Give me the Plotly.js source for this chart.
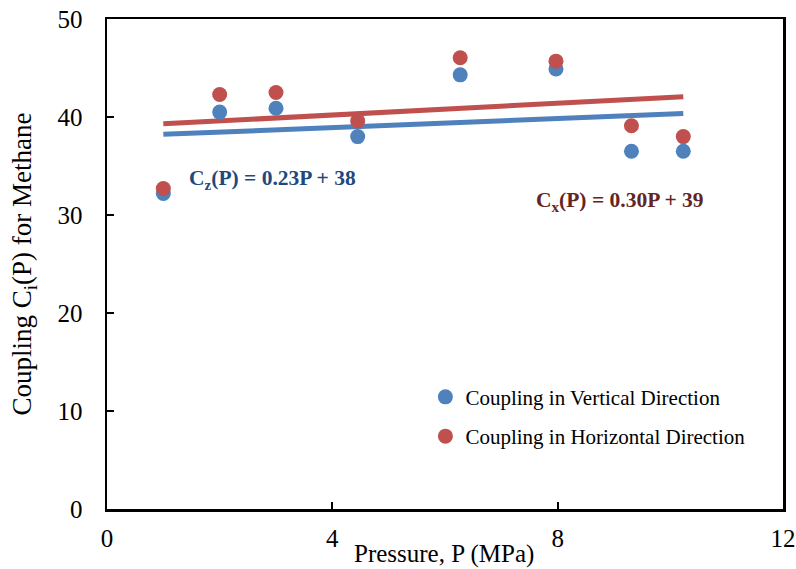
<!DOCTYPE html>
<html>
<head>
<meta charset="utf-8">
<script src="https://cdn.plot.ly/plotly-3.0.1.min.js"></script>
<style>html,body{margin:0;padding:0;background:#fff;}#chart{width:796px;height:569px;}</style>
</head>
<body>
<div id="chart"></div>
<script>
// Data
const pressure = [1.0, 2.0, 3.0, 4.45, 6.27, 7.97, 9.31, 10.23];
const couplingVertical = [32.2, 40.5, 40.9, 38.0, 44.3, 44.9, 36.5, 36.5];
const couplingHorizontal = [32.7, 42.3, 42.5, 39.6, 46.05, 45.7, 39.1, 38.0];
// Trend-line coefficients as printed on the chart
const trendVertical = {slope: 0.23, intercept: 38};
const trendHorizontal = {slope: 0.30, intercept: 39};
const xTicks = [0, 4, 8, 12];
const yTicks = [0, 10, 20, 30, 40, 50];

const blue = '#4F81BD', red = '#C0504D';
const font = 'Liberation Serif, Times New Roman, serif';

const xMin = Math.min(...pressure), xMax = Math.max(...pressure);
function trend(c) { return [xMin, xMax].map(x => c.slope * x + c.intercept); }

const traces = [
  {x: [xMin, xMax], y: trend(trendVertical), mode: 'lines', line: {color: blue, width: 5}, showlegend: false, hoverinfo: 'skip'},
  {x: [xMin, xMax], y: trend(trendHorizontal), mode: 'lines', line: {color: red, width: 5}, showlegend: false, hoverinfo: 'skip'},
  {x: pressure, y: couplingVertical, mode: 'markers', name: 'Coupling in Vertical Direction',
   marker: {color: blue, size: 15}, legendgroup: 'a'},
  {x: pressure, y: couplingHorizontal, mode: 'markers', name: 'Coupling in Horizontal Direction',
   marker: {color: red, size: 15}, legendgroup: 'b'}
];

const axisCommon = {
  showline: true, linecolor: '#000', linewidth: 2.5, mirror: true,
  ticks: 'inside', ticklen: 7, tickwidth: 2, tickcolor: '#000',
  showgrid: false, zeroline: false,
  tickfont: {family: font, size: 25, color: '#000'}
};

const layout = {
  width: 796, height: 569,
  margin: {l: 107, r: 13, t: 19, b: 60},
  paper_bgcolor: '#fff', plot_bgcolor: '#fff',
  font: {family: font, color: '#000'},
  xaxis: Object.assign({}, axisCommon, {range: [0, 12], tickvals: xTicks, ticktext: xTicks.map(String), ticklabelstandoff: 5}),
  yaxis: Object.assign({}, axisCommon, {range: [0, 50], tickvals: yTicks, ticktext: yTicks.map(String), ticklabelstandoff: 17,
    title: {text: 'Coupling C<sub>i</sub>(P) for Methane', font: {family: font, size: 27, color: '#000'}, standoff: 18}}),
  legend: {x: 0.471, y: 0.270, xanchor: 'left', yanchor: 'top', bgcolor: 'rgba(0,0,0,0)',
    font: {family: font, size: 21, color: '#000'}, tracegroupgap: 9, itemwidth: 30},
  annotations: [
    {xref: 'paper', yref: 'paper', x: (444 - 107) / 676, y: (509 - 554) / 490, xanchor: 'center', yanchor: 'middle',
     text: 'Pressure, P (MPa)', showarrow: false, font: {family: font, size: 25, color: '#000'}},
    {xref: 'x', yref: 'y', x: 1.42, y: 33.6, xanchor: 'left', yanchor: 'middle', showarrow: false,
     text: '<b>C<sub>z</sub>(P) = 0.23P + 38</b>', font: {family: font, size: 21.5, color: '#1F497D'}},
    {xref: 'x', yref: 'y', x: 7.58, y: 31.4, xanchor: 'left', yanchor: 'middle', showarrow: false,
     text: '<b>C<sub>x</sub>(P) = 0.30P + 39</b>', font: {family: font, size: 21.5, color: '#632523'}}
  ]
};

Plotly.newPlot('chart', traces, layout, {displayModeBar: false, staticPlot: true});
</script>
</body>
</html>
